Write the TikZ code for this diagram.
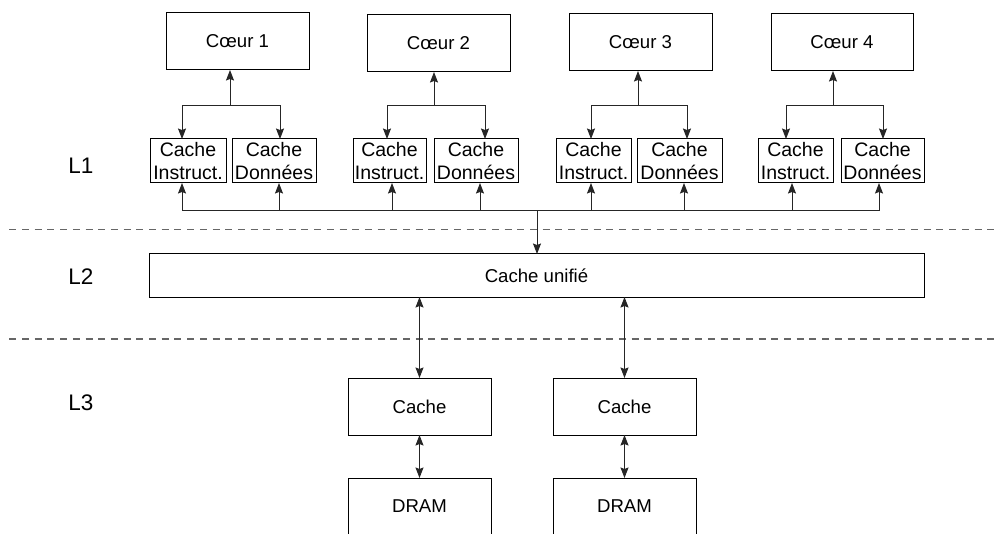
\documentclass[tikz,border=0pt]{standalone}
\usepackage{fontspec}
\setmainfont{Liberation Sans}
\usetikzlibrary{arrows.meta}
\begin{document}
\begin{tikzpicture}[x=1pt,y=-1pt,
  box/.style={draw=black, line width=1pt, inner sep=0pt, outer sep=0pt,
    align=center, font=\fontsize{18.6}{21}\selectfont},
  l1box/.style={box, minimum height=44pt, font=\fontsize{19.5}{22.5}\selectfont},
  conn/.style={draw=black!85, line width=1pt},
  tip/.style={Stealth[length=10.5pt,width=8pt,inset=1.5pt]},
  arr/.style={conn, -{Stealth[length=10.5pt,width=8pt,inset=1.5pt]}},
  biarr/.style={conn, {Stealth[length=10.5pt,width=8pt,inset=1.5pt]}-{Stealth[length=10.5pt,width=8pt,inset=1.5pt]}},
  level/.style={font=\fontsize{22.5}{26}\selectfont},
  sep/.style={draw=black!60, line width=1.3pt, dash pattern=on 7pt off 5.7pt}]
\useasboundingbox (0,0) rectangle (1000,534);

% level separators
\coordinate (s1a) at (9.3,229.7);  \coordinate (s1b) at (1000,229.7);
\coordinate (s2a) at (9.3,339);    \coordinate (s2b) at (1000,339);
\draw[sep] (s1a) -- (s1b);
\draw[sep] (s2a) -- (s2b);

% level labels
\node[level] (lab1) at (81,166) {L1};
\node[level] (lab2) at (81,276.5) {L2};
\node[level] (lab3) at (81,403) {L3};

% cores
\node[box, minimum width=143pt, minimum height=57pt] (c1) at (237.5,41.5) {Cœur 1};
\node[box, minimum width=143pt, minimum height=57pt] (c2) at (438.5,43.5) {Cœur 2};
\node[box, minimum width=143pt, minimum height=57pt] (c3) at (640.5,42.5) {Cœur 3};
\node[box, minimum width=142pt, minimum height=57pt] (c4) at (842,42.5) {Cœur 4};

% L1 caches
\node[l1box, minimum width=76pt] (i1) at (188,161) {Cache\\Instruct.};
\node[l1box, minimum width=84pt] (d1) at (274,161) {Cache\\Données};
\node[l1box, minimum width=73pt] (i2) at (389.5,161) {Cache\\Instruct.};
\node[l1box, minimum width=84pt] (d2) at (476,161) {Cache\\Données};
\node[l1box, minimum width=75pt] (i3) at (593.5,161) {Cache\\Instruct.};
\node[l1box, minimum width=85pt] (d3) at (679.5,161) {Cache\\Données};
\node[l1box, minimum width=75pt] (i4) at (795.5,161) {Cache\\Instruct.};
\node[l1box, minimum width=83pt] (d4) at (882.5,161) {Cache\\Données};

% L2
\node[box, minimum width=775pt, minimum height=43pt] (l2) at (536.5,275.5) {Cache unifié};

% L3 and memory
\node[box, minimum width=143pt, minimum height=57pt] (k1) at (419.5,406.5) {Cache};
\node[box, minimum width=143pt, minimum height=57pt] (k2) at (624.5,406.5) {Cache};
\node[box, minimum width=143pt, minimum height=57pt] (m1) at (419.5,506.5) {DRAM};
\node[box, minimum width=143pt, minimum height=57pt] (m2) at (624.5,506.5) {DRAM};

% core <-> L1 split connectors
\foreach \c/\i/\d/\x/\xi/\xd in {c1/i1/d1/230/182/280, c2/i2/d2/434/387/485,
                                 c3/i3/d3/638/591/687, c4/i4/d4/833/786/883}{
  \coordinate (\c j) at (\x,106);
  \draw[arr] (\c j) -- (\c.south -| \c j);
  \draw[arr] (\c j) -| (\i.north -| \xi,0);
  \draw[arr] (\c j) -| (\d.north -| \xd,0);
}

% shared bus from L2 up to every L1 cache
\coordinate (bl) at (182,211);
\coordinate (br) at (879,211);
\coordinate (bm) at (537,211);
\draw[conn] (bl) -- (br);
\foreach \n/\x in {i1/182, d1/279, i2/392, d2/480, i3/591, d3/684, i4/792, d4/879}{
  \coordinate (\n b) at (\x,211);
  \draw[arr] (\n b) -- (\n.south -| \n b);
}
\draw[arr] (bm) -- (l2.north -| bm);

% L2 <-> L3 <-> DRAM
\draw[biarr] (l2.south -| k1) -- (k1.north);
\draw[biarr] (l2.south -| k2) -- (k2.north);
\draw[biarr] (k1.south) -- (m1.north);
\draw[biarr] (k2.south) -- (m2.north);
\end{tikzpicture}
\end{document}
